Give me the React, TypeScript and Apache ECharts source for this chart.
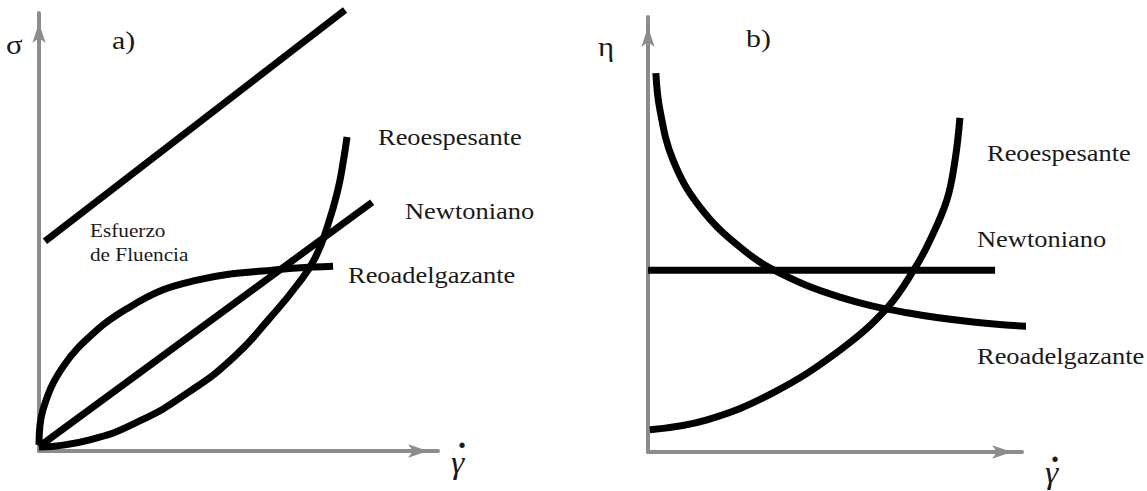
import React, { useEffect, useRef } from "react";
import * as echarts from "echarts";

// Panel a) shear stress vs. shear rate
const aYieldStress: number[][] = [[1.5, 47.9], [76.7, 100.7]];
const aNewtonian: number[][] = [[0, 1], [83.5, 56.8]];
const aThinning: number[][] = [
  [0, 1.4], [1.0, 9.4], [6.0, 19.2], [14.5, 27.6], [22.8, 32.9], [31.1, 36.8],
  [39.6, 39.0], [47.9, 40.4], [56.1, 41.1], [64.7, 41.8], [73.7, 42.2],
];
const aThickening: number[][] = [
  [0, 0.9], [12.5, 2.5], [25.1, 6.8], [37.6, 13.5], [48.9, 21.5], [57.9, 30.4],
  [64.7, 37.9], [69.2, 44.1], [72.4, 51.6], [74.9, 59.6], [76.2, 65.8], [77.2, 71.7],
];

// Panel b) viscosity vs. shear rate
const bNewtonian: number[][] = [[0, 41.8], [92.8, 41.8]];
const bThinning: number[][] = [
  [2.1, 87.1], [3.2, 78.6], [6.7, 67.1], [13.9, 56.3], [24.6, 47.1], [35.3, 41.1],
  [51.3, 35.6], [69.3, 32.0], [86.9, 29.9], [108.3, 28.5],
];
const bThickening: number[][] = [
  [0.5, 5.1], [15.8, 7.4], [33.4, 13.6], [51.3, 23.4], [63.9, 33.1], [71.4, 42.3],
  [75.4, 48.7], [79.9, 57.9], [82.1, 67.1], [83.4, 76.8],
];

const curveLabels = ["Reoespesante", "Newtoniano", "Reoadelgazante"];
const yieldLabel = ["Esfuerzo", "de Fluencia"];

const AXIS_GRAY = "#8c8c8c";
const INK = "#000";
const TEXT = "#1a1a1a";
const SERIF = "Liberation Serif";

function axisPair(gridIndex: number) {
  const common = {
    type: "value" as const,
    gridIndex,
    min: 0,
    max: 100,
    axisLine: {
      show: true,
      symbol: ["none", "arrow"],
      symbolSize: [10, 20],
      symbolOffset: [0, -10],
      lineStyle: { color: AXIS_GRAY, width: 4 },
    },
    axisTick: { show: false },
    axisLabel: { show: false },
    splitLine: { show: false },
  };
  return { x: { ...common }, y: { ...common } };
}

function curve(data: number[][], idx: number, smooth: boolean | number) {
  return {
    type: "line" as const,
    xAxisIndex: idx,
    yAxisIndex: idx,
    data,
    smooth,
    showSymbol: false,
    clip: false,
    silent: true,
    lineStyle: { color: INK, width: 7, cap: "butt" as const },
  };
}

function label(text: string, x: number, y: number, size: number, opts: any = {}) {
  return {
    type: "text" as const,
    x,
    y,
    scaleX: opts.scaleX ?? 1.15,
    silent: true,
    style: {
      text,
      fill: TEXT,
      fontFamily: SERIF,
      fontSize: size,
      fontStyle: opts.italic ? "italic" : "normal",
      fontWeight: opts.bold ? "bold" : "normal",
      textAlign: "left",
      textVerticalAlign: "middle",
    },
  };
}

export default function App() {
  const ref = useRef<HTMLDivElement>(null);

  useEffect(() => {
    if (!ref.current) return;
    const chart = echarts.init(ref.current, undefined, { renderer: "svg" });
    const a = axisPair(0);
    const b = axisPair(1);

    chart.setOption({
      animation: false,
      backgroundColor: "#fff",
      grid: [
        { left: 39, top: 13, width: 399, height: 438 },
        { left: 648, top: 17, width: 374, height: 435 },
      ],
      xAxis: [a.x, b.x],
      yAxis: [a.y, b.y],
      series: [
        curve(aYieldStress, 0, false),
        curve(aNewtonian, 0, false),
        curve(aThinning, 0, 0.4),
        curve(aThickening, 0, 0.5),
        curve(bNewtonian, 1, false),
        curve(bThinning, 1, 0.4),
        curve(bThickening, 1, 0.4),
      ],
      graphic: [
        label("σ", 6, 44, 28, { scaleX: 1.1 }),
        label("a)", 112, 40, 26),
        label("η", 598, 46, 28, { scaleX: 1.1 }),
        label("b)", 746, 38, 26),
        // shear rate symbol: italic gamma with a dot above
        label("γ", 451, 462, 32, { italic: true, scaleX: 1.05 }),
        label("˙", 456, 456, 36, { bold: true, scaleX: 1.0 }),
        label("γ", 1045, 472, 32, { italic: true, scaleX: 1.05 }),
        label("˙", 1049, 470, 36, { bold: true, scaleX: 1.0 }),
        label(yieldLabel[0], 90, 231, 18, { scaleX: 1.18 }),
        label(yieldLabel[1], 90, 255, 18, { scaleX: 1.18 }),
        label(curveLabels[0], 378, 137, 23),
        label(curveLabels[1], 405, 211, 23),
        label(curveLabels[2], 348, 275, 23),
        label(curveLabels[0], 987, 153, 23),
        label(curveLabels[1], 977, 239, 23),
        label(curveLabels[2], 977, 356, 23),
      ],
    });
    return () => chart.dispose();
  }, []);

  return (
    <div
      ref={ref}
      style={{ position: "absolute", left: 0, top: 0, width: 1147, height: 491 }}
    />
  );
}
